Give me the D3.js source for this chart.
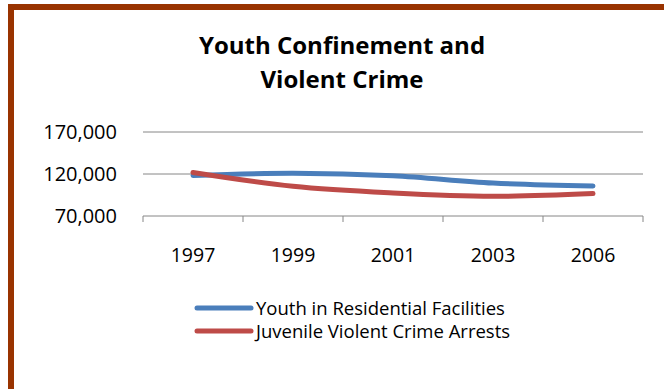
<!DOCTYPE html>
<html>
<head>
<meta charset="utf-8">
<script src="https://cdn.jsdelivr.net/npm/d3@7"></script>
<style>
	body { margin: 0; background: #fff; }
	svg { display: block; }
</style>
</head>
<body>
<div id="my_dataviz"></div>
<script>
// data
const years = ["1997", "1999", "2001", "2003", "2006"];
const youthFacilities = [118200, 120900, 117900, 109200, 105700];
const violentArrests = [121800, 105300, 97400, 93500, 96700];
const yTicks = [70000, 120000, 170000];
const seriesNames = ["Youth in Residential Facilities", "Juvenile Violent Crime Arrests"];
const titleLines = ["Youth Confinement and", "Violent Crime"];

function main() {
	const W = 664, H = 389;
	const colors = ["#4a7ebb", "#be4b48"];
	const font = "'Open Sans', sans-serif";

	const svg = d3
		.select("#my_dataviz")
		.append("svg")
		.attr("width", W)
		.attr("height", H);

	// brown frame, runs off the right and bottom edges
	svg.append("rect")
		.attr("x", 11)
		.attr("y", 7)
		.attr("width", 720)
		.attr("height", 460)
		.attr("fill", "white")
		.attr("stroke", "#993300")
		.attr("stroke-width", 6);

	// title
	svg.append("g")
		.selectAll("text")
		.data(titleLines)
		.join("text")
		.attr("x", 342)
		.attr("y", (d, i) => 54 + i * 34)
		.attr("text-anchor", "middle")
		.style("font-family", font)
		.style("font-weight", "bold")
		.style("font-size", "24px")
		.attr("fill", "#000")
		.text((d) => d);

	// scales
	const x = d3.scaleBand().domain(years).range([143, 643]);
	const y = d3.scaleLinear().domain([70000, 170000]).range([216, 132]);

	// gridlines
	svg.append("g")
		.selectAll("line")
		.data(yTicks.slice(1))
		.join("line")
		.attr("x1", 143)
		.attr("x2", 643)
		.attr("y1", (d) => y(d))
		.attr("y2", (d) => y(d))
		.attr("stroke", "#868686")
		.attr("stroke-width", 1);

	// y labels
	const fmt = d3.format(",");
	svg.append("g")
		.selectAll("text")
		.data(yTicks)
		.join("text")
		.attr("x", 117)
		.attr("y", (d) => y(d))
		.attr("dy", "0.36em")
		.attr("text-anchor", "end")
		.style("font-family", font)
		.style("font-size", "20px")
		.attr("fill", "#000")
		.text((d) => fmt(d));

	// x axis with ticks between the categories
	const xAxis = svg.append("g")
		.attr("transform", `translate(0, ${y(70000)})`)
		.call(d3.axisBottom(x).tickSize(0).tickFormat(""));
	xAxis.select(".domain").attr("stroke", "#868686").attr("d", "M143,0H643");
	xAxis.selectAll(".tick").remove();
	xAxis.selectAll(".sep")
		.data(d3.range(years.length + 1))
		.join("line")
		.attr("class", "sep")
		.attr("x1", (d) => 143 + d * x.bandwidth())
		.attr("x2", (d) => 143 + d * x.bandwidth())
		.attr("y1", 0)
		.attr("y2", 6)
		.attr("stroke", "#868686");

	svg.append("g")
		.selectAll("text")
		.data(years)
		.join("text")
		.attr("x", (d) => x(d) + x.bandwidth() / 2)
		.attr("y", 262)
		.attr("text-anchor", "middle")
		.style("font-family", font)
		.style("font-size", "19.5px")
		.attr("fill", "#000")
		.text((d) => d);

	// smoothed lines
	const line = d3
		.line()
		.x((d, i) => x(years[i]) + x.bandwidth() / 2)
		.y((d) => y(d))
		.curve(d3.curveCatmullRom);

	[youthFacilities, violentArrests].forEach((values, i) => {
		svg.append("path")
			.datum(values)
			.attr("d", line)
			.attr("fill", "none")
			.attr("stroke", colors[i])
			.attr("stroke-width", 5)
			.attr("stroke-linecap", "round")
			.attr("stroke-linejoin", "round");
	});

	// legend
	const legend = svg.append("g")
		.selectAll("g")
		.data(seriesNames)
		.join("g")
		.attr("transform", (d, i) => `translate(197, ${308 + i * 23})`);
	legend.append("line")
		.attr("x1", 0)
		.attr("x2", 54)
		.attr("stroke", (d, i) => colors[i])
		.attr("stroke-width", 5)
		.attr("stroke-linecap", "round");
	legend.append("text")
		.attr("x", 59)
		.attr("dy", "0.36em")
		.style("font-family", font)
		.style("font-size", "18.5px")
		.attr("fill", "#000")
		.text((d) => d);
}

main();
</script>
</body>
</html>
